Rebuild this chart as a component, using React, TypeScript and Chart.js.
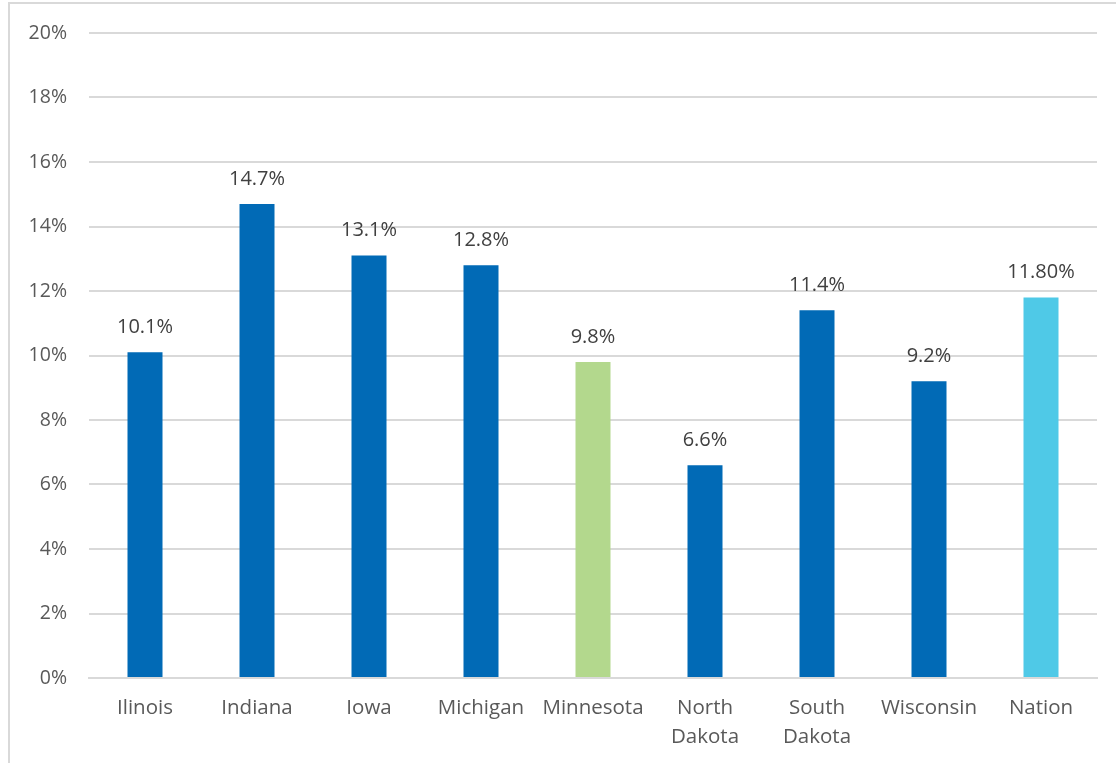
import React, { useEffect, useRef } from "react";
import { Chart, registerables } from "chart.js";

Chart.register(...registerables);

const categories: (string | string[])[] = [
  "Ilinois",
  "Indiana",
  "Iowa",
  "Michigan",
  "Minnesota",
  ["North", "Dakota"],
  ["South", "Dakota"],
  "Wisconsin",
  "Nation",
];
const values = [10.1, 14.7, 13.1, 12.8, 9.8, 6.6, 11.4, 9.2, 11.8];
const valueLabels = ["10.1%", "14.7%", "13.1%", "12.8%", "9.8%", "6.6%", "11.4%", "9.2%", "11.80%"];
const barColors = [
  "#016AB6",
  "#016AB6",
  "#016AB6",
  "#016AB6",
  "#B3D88D",
  "#016AB6",
  "#016AB6",
  "#016AB6",
  "#4FC9E7",
];
const yTicks = [0, 2, 4, 6, 8, 10, 12, 14, 16, 18, 20];

const FONT = "'Open Sans', sans-serif";

const labelPlugin = {
  id: "valueLabels",
  afterDatasetsDraw(chart: any) {
    const ctx = chart.ctx;
    const meta = chart.getDatasetMeta(0);
    ctx.save();
    ctx.font = `20px ${FONT}`;
    ctx.fillStyle = "#404040";
    ctx.textAlign = "center";
    ctx.textBaseline = "middle";
    meta.data.forEach((bar: any, i: number) => {
      ctx.fillText(valueLabels[i], bar.x, bar.y - 25);
    });
    ctx.restore();
  },
};

export default function App() {
  const ref = useRef<HTMLCanvasElement | null>(null);
  useEffect(() => {
    if (!ref.current) return;
    const chart = new Chart(ref.current, {
      type: "bar",
      data: {
        labels: categories,
        datasets: [
          {
            data: values,
            backgroundColor: barColors,
            borderWidth: 0,
            barPercentage: 1,
            categoryPercentage: 0.3125,
          },
        ],
      },
      options: {
        animation: false,
        responsive: false,
        maintainAspectRatio: false,
        layout: { padding: { top: 29, right: 19, left: 0, bottom: 0 } },
        plugins: { legend: { display: false }, tooltip: { enabled: false } },
        scales: {
          x: {
            grid: { display: false, drawTicks: false },
            border: { color: "#D9D9D9", width: 2 },
            ticks: {
              color: "#595959",
              font: { family: FONT, size: 20.5, lineHeight: 1.45 },
              padding: 15,
              maxRotation: 0,
              autoSkip: false,
            },
            afterFit: (s: any) => {
              s.height = 87;
              s.paddingLeft = 0;
              s.paddingRight = 0;
            },
          },
          y: {
            min: 0,
            max: 20,
            afterBuildTicks: (s: any) => {
              s.ticks = yTicks.map((v) => ({ value: v }));
            },
            grid: { color: "#D9D9D9", lineWidth: 2, drawTicks: false },
            border: { display: false },
            ticks: {
              color: "#595959",
              font: { family: FONT, size: 19.5 },
              padding: 22,
              callback: (v: any) => `${v}%`,
            },
            afterFit: (s: any) => {
              s.width = 79;
              s.paddingTop = 0;
              s.paddingBottom = 0;
            },
          },
        },
      },
      plugins: [labelPlugin],
    });
    return () => chart.destroy();
  }, []);
  return (
    <div
      style={{
        position: "fixed",
        left: 8,
        top: 2,
        width: 1120,
        height: 770,
        borderLeft: "2px solid #D9D9D9",
        borderTop: "2px solid #D9D9D9",
        background: "#fff",
      }}
    >
      <canvas ref={ref} width={1106} height={761} style={{ display: "block" }} />
    </div>
  );
}
